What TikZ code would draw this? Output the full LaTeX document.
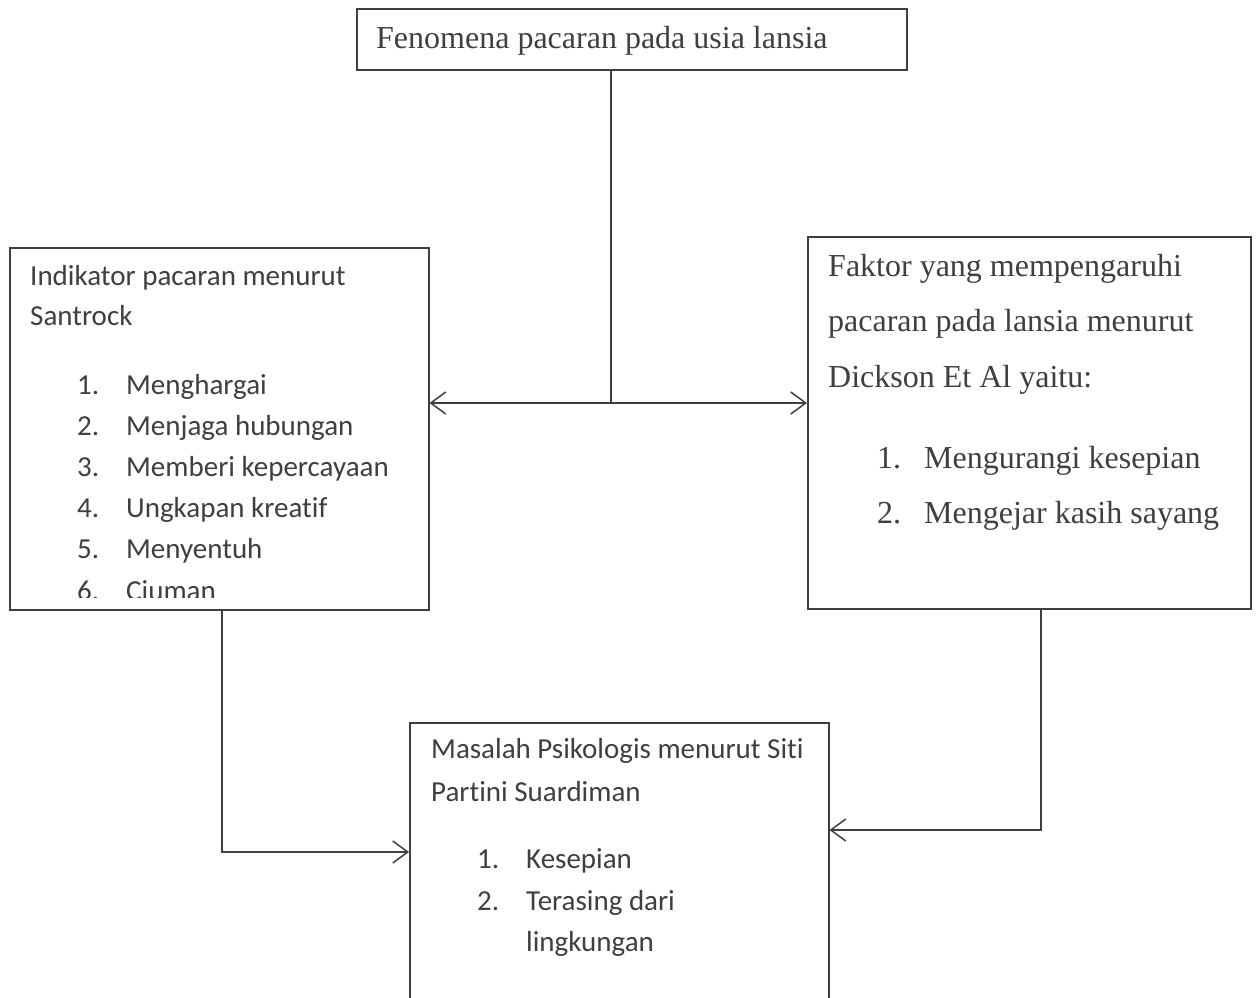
\documentclass[tikz,border=0pt]{standalone}
\usepackage{fontspec}
\setmainfont{Liberation Serif}
\newfontfamily\calfont[Ligatures={NoCommon}]{Carlito}
\usetikzlibrary{arrows.meta}
\definecolor{ink}{HTML}{3F3F3F}
\tikzset{
  boxnode/.style={draw=ink, line width=1.5pt, anchor=north west, inner sep=0pt},
  ser/.style={font=\fontsize{32}{38}\selectfont, text=ink, anchor=base west, inner sep=0pt},
  cal/.style={font=\calfont\fontsize{29}{35}\selectfont, text=ink, anchor=base west, inner sep=0pt},
  conn/.style={draw=ink, line width=1.5pt},
  tip/.style={-{Straight Barb[length=15pt,width=22pt,line width=1.5pt]}},
}
\begin{document}
\begin{tikzpicture}[x=1pt,y=-1pt]
\useasboundingbox (0,0) rectangle (1256,997);
\fill[white] (0,0) rectangle (1256,997);
% boxes
\node[boxnode, minimum width=550pt, minimum height=61pt] (top) at (356,8) {};
\node[boxnode, minimum width=419pt, minimum height=362pt] (left) at (9,247) {};
\node[boxnode, minimum width=443pt, minimum height=372pt] (right) at (807,236) {};
\node[boxnode, minimum width=419pt, minimum height=300pt] (bot) at (409,722) {};
% top text
\node[ser] (t1) at (376,48) {Fenomena pacaran pada usia lansia};
% left text
\node[cal] (l1) at (30,285) {Indikator pacaran menurut};
\node[cal] (l2) at (30,325) {Santrock};
\begin{scope}
\clip (9,247) rectangle (428,597);
\node[cal] (ln1) at (77,394) {1.};  \node[cal] (li1) at (126,394) {Menghargai};
\node[cal] (ln2) at (77,435) {2.};  \node[cal] (li2) at (126,435) {Menjaga hubungan};
\node[cal] (ln3) at (77,476) {3.};  \node[cal] (li3) at (126,476) {Memberi kepercayaan};
\node[cal] (ln4) at (77,517) {4.};  \node[cal] (li4) at (126,517) {Ungkapan kreatif};
\node[cal] (ln5) at (77,558) {5.};  \node[cal] (li5) at (126,558) {Menyentuh};
\node[cal] (ln6) at (77,600) {6.};  \node[cal] (li6) at (126,600) {Ciuman};
\end{scope}
% right text
\node[ser] (r1) at (828,276) {Faktor yang mempengaruhi};
\node[ser] (r2) at (828,331) {pacaran pada lansia menurut};
\node[ser] (r3) at (828,387) {Dickson Et Al yaitu:};
\node[ser] (rn1) at (877,468) {1.}; \node[ser] (ri1) at (924,468) {Mengurangi kesepian};
\node[ser] (rn2) at (877,523) {2.}; \node[ser] (ri2) at (924,523) {Mengejar kasih sayang};
% bottom text
\node[cal] (b1) at (431,758) {Masalah Psikologis menurut Siti};
\node[cal] (b2) at (431,801) {Partini Suardiman};
\node[cal] (bn1) at (477,868) {1.}; \node[cal] (bi1) at (526,868) {Kesepian};
\node[cal] (bn2) at (477,910) {2.}; \node[cal] (bi2) at (526,910) {Terasing dari};
\node[cal] (bi3) at (526,951) {lingkungan};
% connectors
\coordinate (j) at (611,403);
\coordinate (lc) at (222,852);
\coordinate (rc) at (1041,830);
\draw[conn] (top.south -| j) -- (j);
\draw[conn, tip] (j) -- (left.east |- j);
\draw[conn, tip] (j) -- (right.west |- j);
\draw[conn, tip] (left.south -| lc) |- (bot.west |- lc);
\draw[conn, tip] (right.south -| rc) |- (bot.east |- rc);
\end{tikzpicture}
\end{document}
